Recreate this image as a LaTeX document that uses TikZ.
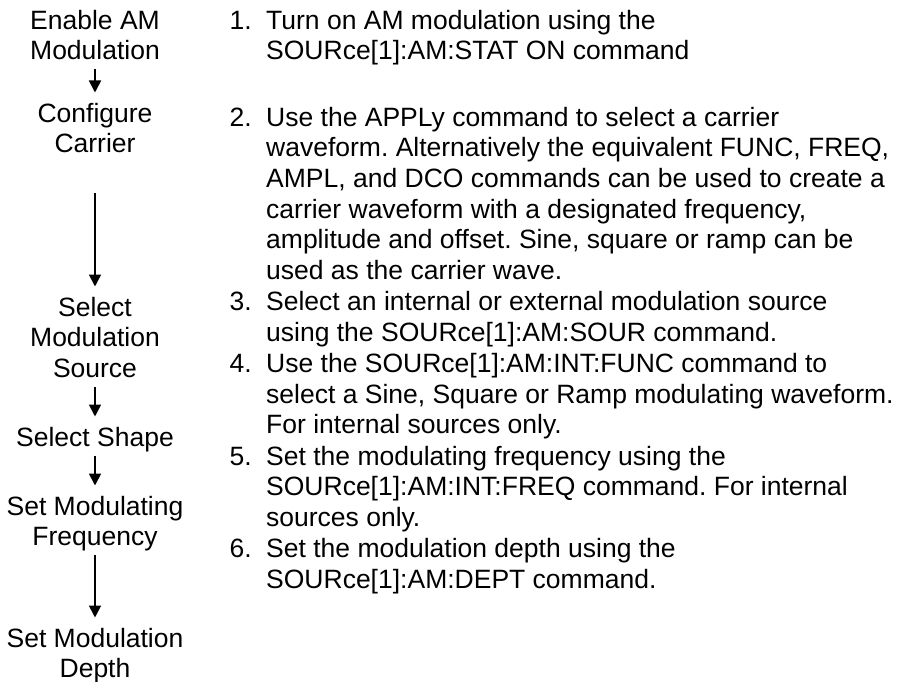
\documentclass[tikz,border=0pt]{standalone}
\usepackage{fontspec}
\setmainfont{Liberation Sans}
\usetikzlibrary{arrows.meta,positioning}
\frenchspacing
\tikzset{
    txt/.style={inner sep=0pt, font=\fontsize{26.5}{30.7}\selectfont},
    stage/.style={txt, align=center, anchor=north},
    item/.style={txt, align=left, anchor=north west},
    flow/.style={-{Triangle[width=12pt,length=12pt]}, line width=1.8pt, shorten >=8pt}
}
\begin{document}
\begin{tikzpicture}[x=1pt,y=-1pt]
    \useasboundingbox (0,0) rectangle (903,682);
    % Stages on the left
    \pgfmathsetmacro{\cx}{95}
    \node[stage] (enable) at (\cx,7.5) {\strut Enable AM\\Modulation\strut};
    \node[stage] (carrier) at (\cx,100.5) {\strut Configure\\Carrier\strut};
    \node[stage] (source) at (\cx,294.5) {\strut Select\\Modulation\\Source\strut};
    \node[stage] (shape) at (\cx,424.5) {\strut Select Shape\strut};
    \node[stage] (freq) at (\cx,493.5) {\strut Set Modulating\\Frequency\strut};
    \node[stage] (depth) at (\cx,625.5) {\strut Set Modulation\\Depth\strut};
    \draw[flow] (enable) -- (carrier);
    \draw[flow, shorten <=31pt] (carrier) -- (source);
    \draw[flow] (source) -- (shape);
    \draw[flow] (shape) -- (freq);
    \draw[flow] (freq) -- (depth);
    % Steps on the right
    \node[item] (step1) at (266,7.5) {\strut Turn on AM modulation using the\\SOURce[1]:AM:STAT ON command\strut};
    \node[item] (step2) at (266,104.5) {\strut Use the APPLy command to select a carrier\\waveform. Alternatively the equivalent FUNC, FREQ,\\AMPL, and DCO commands can be used to create a\\carrier waveform with a designated frequency,\\amplitude and offset. Sine, square or ramp can be\\used as the carrier wave.\strut};
    \node[item, below=0pt of step2.south west, anchor=north west] (step3) {\strut Select an internal or external modulation source\\using the SOURce[1]:AM:SOUR command.\strut};
    \node[item, below=0pt of step3.south west, anchor=north west] (step4) {\strut Use the SOURce[1]:AM:INT:FUNC command to\\select a Sine, Square or Ramp modulating waveform.\\For internal sources only.\strut};
    \node[item, below=0pt of step4.south west, anchor=north west] (step5) {\strut Set the modulating frequency using the\\SOURce[1]:AM:INT:FREQ command. For internal\\sources only.\strut};
    \node[item, below=0pt of step5.south west, anchor=north west] (step6) {\strut Set the modulation depth using the\\SOURce[1]:AM:DEPT command.\strut};
    \foreach \i in {1,...,6}
        \node[txt, anchor=north east] (num\i) at ([xshift=-14pt]step\i.north west) {\strut\i.};
\end{tikzpicture}
\end{document}
